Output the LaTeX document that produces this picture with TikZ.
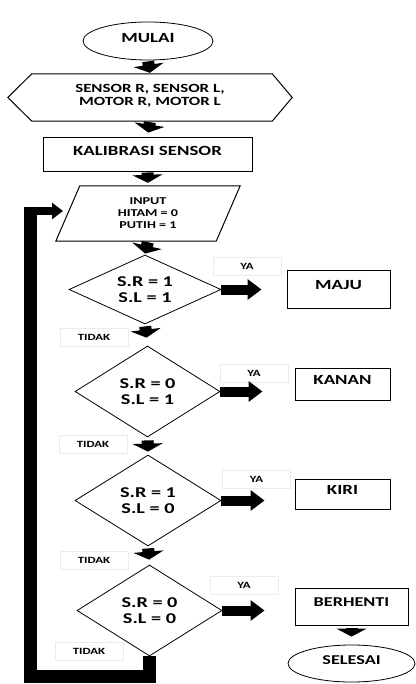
\documentclass[tikz,border=0pt]{standalone}
\usepackage{fontspec}
\setmainfont{Carlito}[FakeStretch=1.35]
\usetikzlibrary{shapes.geometric,arrows.meta,shadows}

\begin{document}
\begin{tikzpicture}[x=1pt,y=-1pt,
	kotak/.style={draw,line width=1pt,text depth=8pt,font=\bfseries\fontsize{14}{16}\selectfont},
	bulat/.style={draw,ellipse,line width=.8pt,text depth=7pt,font=\bfseries\fontsize{14}{16}\selectfont},
	belah/.style={draw,diamond,aspect=2,inner sep=0pt,align=center,line width=.8pt,font=\bfseries\fontsize{15}{16}\selectfont},
	lbl/.style={fill=white,draw=black!8,minimum width=68pt,minimum height=18pt,font=\bfseries\fontsize{9.5}{10}\selectfont,
		drop shadow={shadow xshift=.8pt,shadow yshift=-.8pt,fill=black,opacity=.25}},
	turun/.style={line width=12pt,-{Triangle[width=30pt,length=8pt]}},
	kekanan/.style={line width=10pt,-{Triangle[width=20pt,length=14pt]}}]
	\useasboundingbox (0,0) rectangle (415,684);
	% awal
	\node[bulat,minimum width=130pt,minimum height=38pt] (mulai) at (148,41) {MULAI};
		\node[minimum width=284pt,minimum height=47pt,align=center,text depth=5pt,font=\bfseries\fontsize{12.5}{13}\selectfont] (hex) at (150,97.5) {SENSOR R, SENSOR L,\\MOTOR R, MOTOR L};
		\draw[line width=1pt] ([xshift=24pt]hex.north west) -- ([xshift=-20pt]hex.north east) -- (hex.east) -- ([xshift=-20pt]hex.south east) -- ([xshift=24pt]hex.south west) -- (hex.west) -- cycle;
	\node[kotak,minimum width=209pt,minimum height=34pt] (kal) at (147.5,155) {KALIBRASI SENSOR};
		\node[minimum width=184pt,minimum height=55pt,align=center,font=\bfseries\fontsize{10.5}{12}\selectfont] (inp) at (148,213.5) {INPUT\\HITAM = 0\\PUTIH = 1};
		\draw[line width=1pt] ([xshift=24pt]inp.north west) -- (inp.north east) -- ([xshift=-24pt]inp.south east) -- (inp.south west) -- cycle;
	% keputusan
	\node[belah,minimum width=152pt,minimum height=69pt] (d1) at (145,289.5) {S.R = 1\\S.L = 1};
	\node[belah,minimum width=145pt,minimum height=91pt] (d2) at (147.5,391.5) {S.R = 0\\S.L = 1};
	\node[belah,minimum width=146pt,minimum height=91pt] (d3) at (148,500.5) {S.R = 1\\S.L = 0};
	\node[belah,minimum width=145pt,minimum height=91pt] (d4) at (149.5,610.5) {S.R = 0\\S.L = 0};
	% aksi
	\node[kotak,minimum width=103pt,minimum height=38pt] (maju) at (338.5,289) {MAJU};
	\node[kotak,minimum width=95pt,minimum height=32pt] (kanan) at (342.5,384) {KANAN};
	\node[kotak,minimum width=95pt,minimum height=30pt] (kiri) at (342.5,494) {KIRI};
	\node[kotak,minimum width=113pt,minimum height=37pt,font=\bfseries\fontsize{13.5}{15}\selectfont] (henti) at (351.5,606.5) {BERHENTI};
		\node[bulat,minimum width=127pt,minimum height=37pt,font=\bfseries\fontsize{13.5}{15}\selectfont] (selesai) at (351.5,663.5) {SELESAI};
	% label
	\node[lbl] (ya1) at (247,266) {YA};
	\node[lbl] (ya2) at (254,373.5) {YA};
	\node[lbl] (ya3) at (256.5,479.5) {YA};
	\node[lbl] (ya4) at (244,585) {YA};
	\node[lbl] (td1) at (94,337.5) {TIDAK};
	\node[lbl] (td2) at (93,444.5) {TIDAK};
	\node[lbl] (td3) at (94,560) {TIDAK};
	\node[lbl] (td4) at (89,651) {TIDAK};
	% panah
	\draw[turun,shorten <=1pt,shorten >=1pt] (mulai.south) -- (hex.north);
	\draw[turun,shorten <=1pt,shorten >=5pt] (hex.south) -- (kal.north);
	\draw[turun,shorten >=3pt] (kal.south) -- (inp.north);
	\draw[turun,shorten <=1pt,shorten >=1pt] (inp.south) -- (d1.north);
	\draw[turun,shorten <=2pt,shorten >=8pt] (d1.south) -- (d2.north);
	\draw[turun,shorten <=3pt,shorten >=3pt] (d2.south) -- (d3.north);
	\draw[turun,shorten <=2pt,shorten >=5pt] (d3.south) -- (d4.north);
	\draw[turun,shorten <=2pt,shorten >=8pt] (henti.south) -- (selesai.north);
		\draw[kekanan,shorten >=25pt] (d1.east) -- (d1.east -| maju.west);
		\draw[kekanan,shorten >=32pt] (d2.east) -- (d2.east -| kanan.west);
		\draw[kekanan,shorten >=30pt] (d3.east) -- (d3.east -| kiri.west);
		\draw[kekanan,shorten >=30pt] (d4.east) -- (d4.east -| henti.west);
	% kembali
	\coordinate (sudut) at (30,207);
	\coordinate (masuk) at (63,211);
	\draw[line width=13pt] (d4.south) -- ++(0,20) -| (sudut);
	\draw[line width=8pt,-{Triangle[width=16pt,length=11pt]}] (sudut) ++(6.5,4) -- (masuk);
\end{tikzpicture}
\end{document}
